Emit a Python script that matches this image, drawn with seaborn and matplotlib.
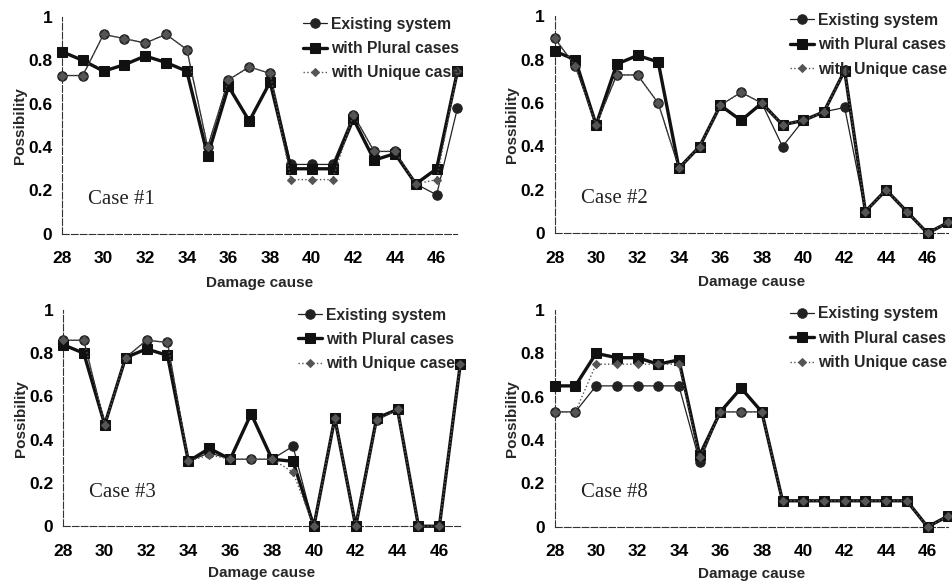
import numpy as np
import pandas as pd
import matplotlib
matplotlib.use("Agg")
import matplotlib.pyplot as plt
import seaborn as sns

causes = list(range(28, 48))

case1_existing = [0.73, 0.73, 0.92, 0.90, 0.88, 0.92, 0.85, 0.40, 0.71, 0.77, 0.74, 0.32, 0.32, 0.32, 0.55, 0.38, 0.38, 0.23, 0.18, 0.58]
case1_plural   = [0.84, 0.80, 0.75, 0.78, 0.82, 0.79, 0.75, 0.36, 0.68, 0.52, 0.70, 0.30, 0.30, 0.30, 0.53, 0.34, 0.37, 0.23, 0.30, 0.75]
case1_unique   = [0.73, 0.73, 0.92, 0.90, 0.88, 0.92, 0.85, 0.40, 0.71, 0.77, 0.74, 0.25, 0.25, 0.25, 0.55, 0.38, 0.38, 0.23, 0.25, 0.75]

case2_existing = [0.90, 0.77, 0.50, 0.73, 0.73, 0.60, 0.30, 0.40, 0.59, 0.65, 0.60, 0.40, 0.52, 0.56, 0.58, 0.10, 0.20, 0.10, 0.00, 0.05]
case2_plural   = [0.84, 0.80, 0.50, 0.78, 0.82, 0.79, 0.30, 0.40, 0.59, 0.52, 0.60, 0.50, 0.52, 0.56, 0.75, 0.10, 0.20, 0.10, 0.00, 0.05]
case2_unique   = [0.90, 0.77, 0.50, 0.73, 0.73, 0.60, 0.30, 0.40, 0.59, 0.65, 0.60, 0.50, 0.52, 0.56, 0.75, 0.10, 0.20, 0.10, 0.00, 0.05]

case3_existing = [0.86, 0.86, 0.47, 0.78, 0.86, 0.85, 0.30, 0.34, 0.31, 0.31, 0.31, 0.37, 0.00, 0.50, 0.00, 0.49, 0.54, 0.00, 0.00, 0.75]
case3_plural   = [0.84, 0.80, 0.47, 0.78, 0.82, 0.79, 0.30, 0.36, 0.31, 0.52, 0.31, 0.30, 0.00, 0.50, 0.00, 0.50, 0.54, 0.00, 0.00, 0.75]
case3_unique   = [0.86, 0.86, 0.47, 0.78, 0.86, 0.85, 0.30, 0.33, 0.31, 0.31, 0.31, 0.25, 0.00, 0.50, 0.00, 0.49, 0.54, 0.00, 0.00, 0.75]

case8_existing = [0.53, 0.53, 0.65, 0.65, 0.65, 0.65, 0.65, 0.30, 0.53, 0.53, 0.53, 0.12, 0.12, 0.12, 0.12, 0.12, 0.12, 0.12, 0.00, 0.05]
case8_plural   = [0.65, 0.65, 0.80, 0.78, 0.78, 0.75, 0.77, 0.33, 0.53, 0.64, 0.53, 0.12, 0.12, 0.12, 0.12, 0.12, 0.12, 0.12, 0.00, 0.05]
case8_unique   = [0.53, 0.53, 0.75, 0.75, 0.75, 0.75, 0.75, 0.32, 0.53, 0.53, 0.53, 0.12, 0.12, 0.12, 0.12, 0.12, 0.12, 0.12, 0.00, 0.05]

series_names = ["Existing system", "with Plural cases", "with Unique case"]
case_titles = ["Case #1", "Case #2", "Case #3", "Case #8"]
x_ticks = [28, 30, 32, 34, 36, 38, 40, 42, 44, 46]
y_ticks = [0, 0.2, 0.4, 0.6, 0.8, 1]
y_tick_labels = ["0", "0.2", "0.4", "0.6", "0.8", "1"]

cases = [
    (case1_existing, case1_plural, case1_unique),
    (case2_existing, case2_plural, case2_unique),
    (case3_existing, case3_plural, case3_unique),
    (case8_existing, case8_plural, case8_unique),
]

sns.set_theme(style="white")
plt.rcParams['font.family'] = ['Liberation Sans', 'DejaVu Sans']

fig = plt.figure(figsize=(9.53, 5.86), dpi=100)
positions = [
    (0.065, 0.601, 0.415, 0.370),
    (0.582, 0.602, 0.413, 0.370),
    (0.066, 0.102, 0.417, 0.369),
    (0.582, 0.101, 0.413, 0.370),
]
legend_anchor = [(1.03, 1.045), (1.02, 1.06), (1.01, 1.055), (1.02, 1.06)]
label_pads = [7, 7, 5.5, 5.5]

styles = {
    "Existing system": dict(marker="o", markersize=6.8, linewidth=0.9, linestyle="-", color="#222222", zorder=3),
    "with Plural cases": dict(marker="s", markersize=7, linewidth=2.4, linestyle="-", color="#111111", zorder=4),
    "with Unique case": dict(marker="D", markersize=4, linewidth=1.0, linestyle=":", color="#555555", zorder=5),
}

for idx, (pos, vals, title) in enumerate(zip(positions, cases, case_titles)):
    ax = fig.add_axes(pos)
    for name, v in zip(series_names, vals):
        df = pd.DataFrame({"cause": causes, "value": v})
        st = styles[name]
        sns.lineplot(data=df, x="cause", y="value", ax=ax, label=name,
                     marker=st["marker"], markersize=st["markersize"],
                     linewidth=st["linewidth"], linestyle=st["linestyle"],
                     color=st["color"], markeredgecolor=st["color"],
                     markerfacecolor=st["color"], zorder=st["zorder"])
    ax.set_xlim(28, 47)
    ax.set_ylim(0, 1)
    ax.set_xticks(x_ticks)
    ax.set_xticklabels([str(t) for t in x_ticks], fontweight="bold", fontsize=12.5)
    ax.set_xticks(causes, minor=True)
    ax.set_yticks(y_ticks)
    ax.set_yticklabels(y_tick_labels, fontweight="bold", fontsize=12.5)
    ax.tick_params(axis="x", which="both", direction="in", length=4, width=0.8, pad=12.5, colors="#222222")
    ax.tick_params(axis="y", which="both", direction="in", length=3, width=0.8, pad=7, colors="#222222")
    for lab in ax.get_xticklabels() + ax.get_yticklabels():
        lab.set_color("black")
    ax.set_xlabel("Damage cause", fontweight="bold", fontsize=11, labelpad=label_pads[idx])
    ax.set_ylabel("Possibility", fontweight="bold", fontsize=11, labelpad=1)
    for s in ["top", "right"]:
        ax.spines[s].set_visible(False)
    for s in ["left", "bottom"]:
        ax.spines[s].set_linestyle((0, (6, 2)))
        ax.spines[s].set_linewidth(0.8)
        ax.spines[s].set_color("#333333")
    ax.text(0.066, 0.158, title, transform=ax.transAxes, fontsize=15, va="center",
            family=["Liberation Serif", "DejaVu Serif"], color="#222222")
    leg = ax.legend(loc="upper right", frameon=False, fontsize=11.3,
                    bbox_to_anchor=legend_anchor[idx], handlelength=1.5,
                    handletextpad=0.25, labelspacing=0.6, borderaxespad=0.2)
    for t in leg.get_texts():
        t.set_fontweight("bold")
    ax.set_facecolor("white")
    ax.patch.set_alpha(0)
    for ln in ax.get_lines():
        ln.set_clip_on(False)

fig.savefig("out.png", dpi=100, facecolor="white")
